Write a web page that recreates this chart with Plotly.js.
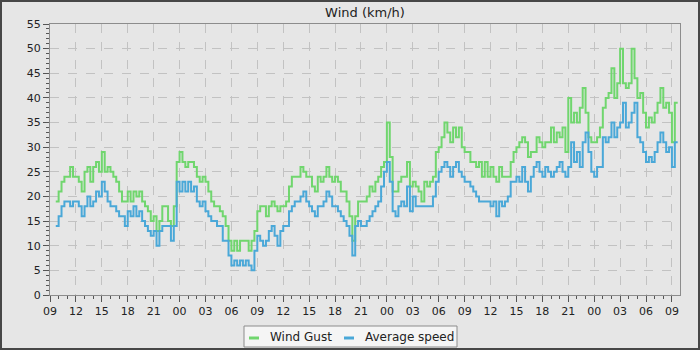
<!DOCTYPE html>
<html>
<head>
<meta charset="utf-8">
<script src="https://cdn.plot.ly/plotly-3.0.1.min.js"></script>
<style>
  html, body { margin: 0; padding: 0; background: #e6e6e6; }
  #wrap { position: relative; width: 700px; height: 350px; }
  #chart { width: 700px; height: 350px; }
  #frame { position: absolute; left: 0; top: 0; width: 700px; height: 350px; box-sizing: border-box;
           border: 2px solid #474747; pointer-events: none; }
</style>
</head>
<body>
<div id="wrap"><div id="chart"></div><div id="frame"></div></div>
<script>
// Samples every 20 minutes, first sample at 09:40 on day 1
const firstSample = Date.UTC(2024, 0, 1, 9, 40);
const stepMinutes = 20;

const windGust = [
  19,
  21, 23, 24,  24, 26, 24,  24, 23, 21,  25, 26, 23,  26, 27, 25,
  29, 25, 26,  25, 24, 23,  21, 19, 19,  21, 19, 21,  20, 21, 19,
  18, 17, 15,  16, 13, 15,  18, 18, 15,  14, 18, 27,  29, 27, 26,
  27, 27, 26,  24, 23, 24,  23, 21, 19,  18, 18, 17,  16, 14, 11,
  9, 11, 9,    11, 11, 11,  9, 11, 13,   17, 18, 18,  16, 18, 19,
  18, 17, 18,  18, 19, 22,  24, 24, 24,  26, 25, 24,  24, 22, 21,
  24, 23, 24,  26, 24, 23,  24, 23, 21,  21, 19, 16,  11, 16, 19,
  19, 19, 20,  22, 21, 23,  24, 26, 27,  35, 28, 21,  21, 23, 24,
  24, 27, 22,  23, 22, 21,  19, 23, 22,  23, 24, 29,  30, 32, 35,
  33, 31, 34,  32, 34, 30,  29, 29, 27,  27, 26, 27,  24, 27, 24,
  26, 24, 23,  26, 24, 24,  24, 27, 29,  30, 31, 32,  31, 28, 29,
  29, 32, 31,  30, 31, 31,  34, 31, 33,  32, 34, 29,  40, 35, 37,
  35, 38, 42,  37, 32, 31,  31, 32, 34,  38, 40, 41,  46, 40, 43,
  50, 43, 42,  43, 50, 44,  40, 41, 37,  34, 36, 35,  37, 39, 42,
  38, 39, 37,  31, 39, 39
];

const averageSpeed = [
  14,
  16, 18, 19,  19, 18, 19,  19, 18, 16,  18, 20, 18,  19, 21, 20,
  23, 21, 19,  18, 18, 17,  16, 16, 14,  17, 16, 18,  16, 17, 15,
  14, 13, 12,  13, 10, 13,  14, 14, 14,  11, 14, 23,  21, 23, 21,
  23, 21, 22,  19, 18, 19,  17, 16, 15,  15, 14, 14,  11, 11, 8,
  6, 7, 6,     7, 6, 7,     6, 5, 9,     12, 11, 10,  11, 13, 14,
  12, 10, 13,  14, 14, 17,  18, 19, 19,  20, 21, 19,  18, 17, 16,
  18, 18, 19,  21, 20, 18,  18, 17, 16,  15, 14, 12,  8, 14, 15,
  14, 14, 15,  16, 17, 18,  19, 22, 25,  27, 23, 17,  16, 18, 19,
  18, 22, 17,  20, 18, 18,  18, 18, 18,  18, 20, 23,  25, 26, 27,
  26, 24, 26,  27, 25, 24,  23, 23, 22,  21, 20, 19,  19, 19, 19,
  18, 19, 16,  19, 18, 19,  20, 23, 23,  24, 23, 26,  23, 21, 24,
  26, 27, 25,  24, 26, 25,  24, 25, 26,  27, 25, 24,  26, 31, 27,
  29, 26, 31,  33, 29, 25,  24, 26, 26,  32, 31, 32,  35, 32, 34,
  35, 39, 34,  35, 37, 39,  32, 31, 29,  27, 28, 27,  29, 31, 33,
  31, 29, 30,  26, 31, 31
];

const seriesNames = ['Wind Gust', 'Average speed'];
const seriesColors = ['#70d66e', '#4aa8d8'];

const times = windGust.map((_, i) => firstSample + i * stepMinutes * 60000);
const rangeStart = Date.UTC(2024, 0, 1, 9, 0);
const rangeEnd = Date.UTC(2024, 0, 4, 9, 56);

const font = 'DejaVu Sans, sans-serif';
const series = [windGust, averageSpeed];

const traces = series.map((vals, k) => ({
  x: times, y: vals, type: 'scatter', mode: 'lines',
  line: { shape: 'hv', color: seriesColors[k], width: 2 },
  name: seriesNames[k], showlegend: false, hoverinfo: 'skip'
}));

// Plot-area geometry (pixels) used to place the custom legend
const W = 700, H = 350, ML = 50, MR = 20, MT = 24, MB = 55;
const pw = W - ML - MR, ph = H - MT - MB;
const px = v => (v - ML) / pw;
const py = v => (H - MB - v) / ph;

const legendBox = { x0: 244, x1: 457, y0: 326, y1: 347 };
const legendItems = [ { sx: 249, tx: 268 }, { sx: 344, tx: 363 } ];
const legendMid = 337;

const shapes = [{
  type: 'rect', xref: 'paper', yref: 'paper',
  x0: px(legendBox.x0), x1: px(legendBox.x1), y0: py(legendBox.y1), y1: py(legendBox.y0),
  fillcolor: '#f5f5f5', line: { color: '#8c8c8c', width: 1 }, layer: 'above'
}];
const annotations = [];
legendItems.forEach((it, k) => {
  shapes.push({
    type: 'line', xref: 'paper', yref: 'paper',
    x0: px(it.sx), x1: px(it.sx + 10), y0: py(legendMid + 1), y1: py(legendMid + 1),
    line: { color: seriesColors[k], width: 3 }, layer: 'above'
  });
  annotations.push({
    xref: 'paper', yref: 'paper', x: px(it.tx), y: py(legendMid),
    xanchor: 'left', yanchor: 'middle', showarrow: false,
    text: seriesNames[k], font: { family: font, size: 12, color: '#222' }
  });
});

const axisCommon = {
  showline: true, linecolor: '#8c8c8c', linewidth: 1, mirror: true,
  ticks: 'outside', ticklen: 6, tickcolor: '#555', tickwidth: 1,
  showgrid: true, gridcolor: '#c2c2c2', gridwidth: 1, griddash: 'dash',
  zeroline: false,
  tickfont: { family: font, size: 11, color: '#222' }
};

const layout = {
  width: W, height: H,
  paper_bgcolor: '#e6e6e6', plot_bgcolor: '#e6e6e6',
  margin: { l: ML, r: MR, t: MT, b: MB, pad: 0 },
  title: { text: 'Wind (km/h)', font: { family: font, size: 13, color: '#222' },
           x: 0.5, xref: 'paper', xanchor: 'center', y: 0.965, yref: 'container', yanchor: 'middle' },
  xaxis: Object.assign({}, axisCommon, {
    type: 'date', range: [rangeStart, rangeEnd],
    tick0: rangeStart, dtick: 3 * 3600000, tickformat: '%H',
    minor: { dtick: 3600000, ticks: 'outside', ticklen: 3, tickcolor: '#555', showgrid: false }
  }),
  yaxis: Object.assign({}, axisCommon, {
    range: [0, 55], tick0: 0, dtick: 5,
    minor: { dtick: 1, ticks: 'outside', ticklen: 3, tickcolor: '#555', showgrid: false }
  }),
  showlegend: false,
  shapes: shapes,
  annotations: annotations
};

Plotly.newPlot('chart', traces, layout, { staticPlot: true, displayModeBar: false });
</script>
</body>
</html>
